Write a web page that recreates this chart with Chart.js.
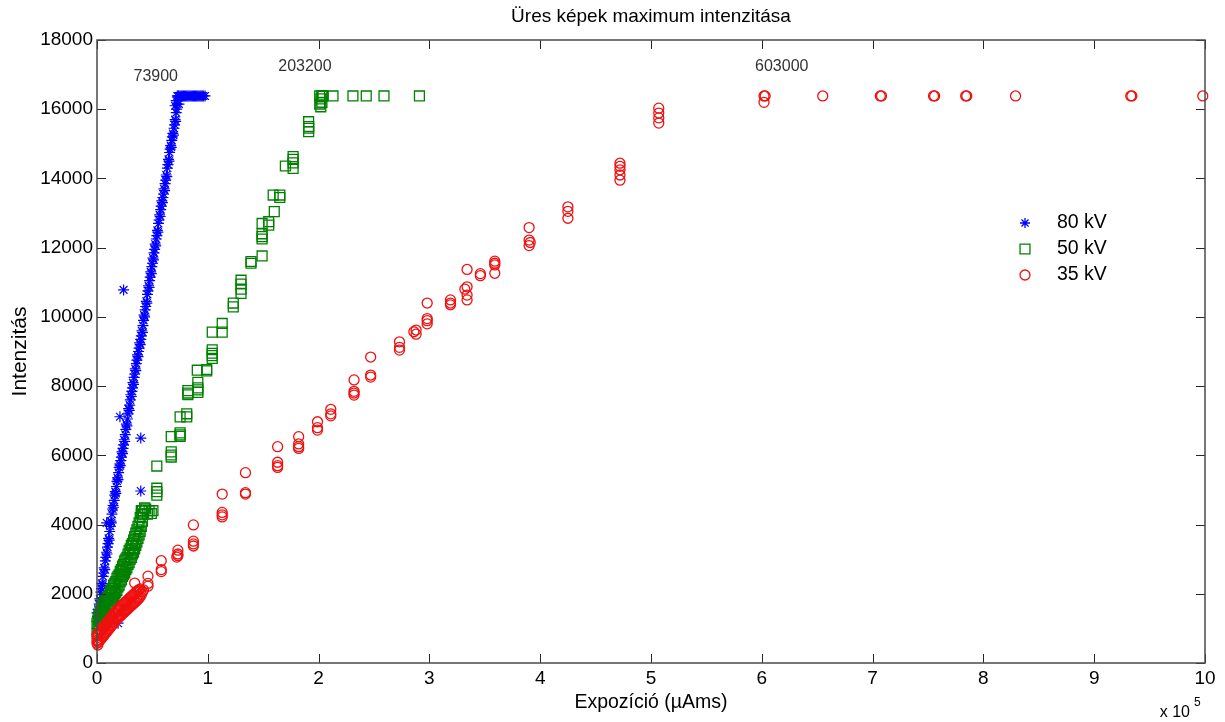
<!DOCTYPE html>
<html><head><meta charset="utf-8">
<script src="https://cdn.jsdelivr.net/npm/chart.js@4.4.1/dist/chart.umd.min.js"></script>
<style>html,body{margin:0;padding:0;background:#fff;}canvas{display:block;}</style>
</head><body>
<canvas id="c" width="1225" height="722"></canvas>
<script>
const chartTitle = 'Üres képek maximum intenzitása';
const xTitle = 'Expozíció (µAms)';
const yTitle = 'Intenzitás';
const xTickValues = [0,100000,200000,300000,400000,500000,600000,700000,800000,900000,1000000];
const xTickLabels = ['0','1','2','3','4','5','6','7','8','9','10'];
const yTickValues = [0,2000,4000,6000,8000,10000,12000,14000,16000,18000];
const xExponent = '5';
const seriesNames = ['80 kV','50 kV','35 kV'];
const seriesColors = ['#0000ff','#008000','#f01010'];

const kv80 = [
[0,1200],[0,1450],[500,1350],[1000,1550],[1500,1500],[2000,1700],[2500,1850],[3000,1800],[3500,2050],[4000,2150],[4500,2300],[5000,2250],[5500,2500],[6000,2600],[6500,2750],[7000,2700],[7500,2950],[8000,3050],[8500,3200],[9000,3150],[9500,3350],[10000,3450],[10500,3600],[11000,3550],[11500,3800],[12000,3950],[12500,4100],[13000,4050],[13500,4300],[14000,4450],[14500,4550],[15000,4500],[15500,4700],[16000,4850],[16500,4950],[17000,4900],[17500,5100],[18000,5250],[18500,5350],[19000,5300],[19500,5500],[20000,5650],[20500,5750],[21000,5700],[21500,5850],[22000,5950],[22500,6100],[23000,6050],[23500,6200],[24000,6300],[24500,6450],[25000,6400],[25500,6600],[26000,6750],[26500,6900],[27000,6850],[27500,7050],[28000,7200],[28500,7350],[29000,7300],[29500,7450],[30000,7600],[30500,7750],[31000,7700],[31500,7850],[32000,7950],[32500,8100],[33000,8050],[33500,8250],[34000,8350],[34500,8500],[35000,8450],[35500,8650],[36000,8750],[36500,8900],[37000,8850],[37500,9000],[38000,9100],[38500,9250],[39000,9200],[39500,9350],[40000,9450],[40500,9600],[41000,9550],[41500,9750],[42000,9900],[42500,10050],[43000,10000],[43500,10200],[44000,10300],[44500,10450],[45000,10400],[45500,10650],[46000,10750],[46500,10900],[47000,10850],[47500,11050],[48000,11150],[48500,11300],[49000,11250],[49500,11450],[50000,11550],[50500,11700],[51000,11650],[51500,11850],[52000,11950],[52500,12100],[53000,12050],[53500,12250],[54000,12350],[54500,12500],[55000,12450],[55500,12700],[56000,12800],[56500,12950],[57000,12900],[57500,13100],[58000,13200],[58500,13350],[59000,13300],[59500,13450],[60000,13550],[60500,13700],[61000,13650],[61500,13850],[62000,13950],[62500,14100],[63000,14050],[63500,14300],[64000,14400],[64500,14550],[65000,14500],[65500,14750],[66000,14850],[66500,14950],[67000,14900],[67500,15100],[68000,15200],[68500,15300],[69000,15250],[69500,15450],[70000,15550],[70500,15700],[71000,15650],[71500,15900],[72000,16000],[72500,16150],[73000,16250],[73500,16383],[73900,16383],[70500,16100],[71500,16250],[74000,16150],[72500,16383],
[75000,16383],[76000,16383],[77000,16383],[78000,16383],[79000,16383],[80000,16383],[81000,16383],[82000,16383],[83000,16383],[84000,16383],[85000,16383],[86000,16383],[87000,16383],[88000,16383],[89000,16383],[90000,16383],[91000,16383],[92000,16383],[93000,16383],[94000,16383],[95000,16383],[96000,16383],[97500,16383],
[24000,10780],[20700,7115],[39500,6500],[39500,4970],[8700,4050],[19000,1150]
];

const kv50 = [
[0,850],[0,1150],[1000,1000],[1000,1300],[2000,1100],[2000,1400],[3000,1200],[3000,1500],[4000,1250],[4000,1550],[5000,1350],[5000,1650],[6000,1400],[6000,1700],[7000,1450],[7000,1750],[8000,1500],[8000,1800],[9000,1550],[9000,1850],[10000,1600],[10000,1900],[11000,1650],[11000,1950],[12000,1700],[12000,2050],[13000,1800],[13000,2100],[14000,1850],[14000,2150],[15000,1900],[15000,2250],[16000,2000],[16000,2300],[17000,2050],[17000,2350],[18000,2100],[18000,2450],[19000,2200],[19000,2500],[20000,2250],[20000,2550],[21000,2350],[21000,2650],[22000,2400],[22000,2700],[23000,2500],[23000,2800],[24000,2550],[24000,2850],[25000,2600],[25000,2950],[26000,2700],[26000,3000],[27000,2750],[27000,3050],[28000,2850],[28000,3150],[29000,2900],[29000,3250],[30000,3000],[30000,3300],[31000,3050],[31000,3400],[32000,3150],[32000,3450],[33000,3200],[33000,3550],[34000,3300],[34000,3650],[35000,3400],[35000,3750],[36000,3500],[36000,3850],[37000,3600],[37000,3950],[38000,3700],[38000,4050],[39000,3800],[39000,4200],[40000,3950],[40000,4300],[41000,4100],[41000,4400],[42000,4300],
[40000,4400],[43000,4480],[44000,4450],[45500,4300],[47000,4400],[49000,4320],[50500,4400],
[54000,5690],[54000,4950],[54000,5050],[54000,4850],
[67000,6540],[67000,6010],[67000,6100],[67000,5950],
[75000,6590],[75000,6650],[75000,6550],[75000,7110],[81000,7110],[81000,7200],
[82000,7870],[82000,7750],[82000,7800],
[91000,7890],[91000,8110],[91000,7950],[91000,7820],[90500,8460],[99000,8440],[99000,8480],
[104000,8950],[104000,8800],[104000,9050],[104000,8880],[104000,9560],[113000,9560],[113000,9810],
[123000,10290],[123000,10400],
[130000,11060],[130000,10680],[130000,10800],[130000,10950],
[139000,11550],[139000,11600],
[149000,11760],[149000,12320],[149000,12700],[149000,12400],[149000,12250],
[155000,12750],[155000,12650],[160000,13040],
[165000,13520],[159000,13520],[165000,13450],
[170000,14360],
[177000,14630],[177000,14450],[177000,14290],[177000,14550],
[191000,15640],[191000,15500],[191000,15350],[191000,15450],
[201000,16383],[202000,16300],[203000,16383],[203000,16200],[204000,16383],[202000,16070],[203200,16383],[201000,16150],
[213000,16383],[231000,16383],[243000,16383],[259000,16383],[291000,16383]
];

const kv35 = [
[0,810],[0,570],[700,520],[0,650],[1000,600],[1000,850],[2000,630],[2000,890],[3000,670],[3000,930],[4000,710],[4000,970],[5000,750],[5000,1010],[6000,790],[6000,1050],[7000,830],[7000,1090],[8000,870],[8000,1130],[9000,910],[9000,1170],[10000,950],[10000,1210],[11000,990],[11000,1250],[12000,1030],[12000,1290],[13000,1070],[13000,1330],[14000,1110],[14000,1370],[15000,1150],[15000,1410],[16000,1190],[16000,1450],[17000,1230],[17000,1490],[18000,1270],[18000,1530],[19000,1300],[19000,1560],[20000,1330],[20000,1590],[21000,1360],[21000,1620],[22000,1390],[22000,1650],[23000,1420],[23000,1680],[24000,1450],[24000,1710],[25000,1480],[25000,1740],[26000,1510],[26000,1770],[27000,1540],[27000,1800],[28000,1570],[28000,1830],[29000,1600],[29000,1860],[30000,1630],[30000,1890],[31000,1660],[31000,1920],[32000,1690],[32000,1950],[33000,1720],[33000,1980],[34000,1750],[34000,2010],[35000,1780],[35000,2040],[36000,1810],[36000,2070],[37000,1840],[37000,2100],[38000,1870],[38000,2120],[39000,1920],[39000,2140],[40000,1980],[41000,2050],[42000,2110],
[34000,2310],
[46000,2510],[46000,2220],[46000,2300],
[58000,2955],[58000,2640],[58000,2700],
[73000,3260],[72000,3060],[73000,3150],[73000,3100],
[87000,3990],[87000,3440],[87000,3520],[87000,3380],
[113000,4880],[113000,4280],[113000,4350],[113000,4220],
[134000,5500],[134000,4880],[134000,4920],
[163000,6250],[163000,5700],[163000,5800],[163000,5650],
[182000,6540],[182000,6250],[182000,6330],[182000,6200],
[199000,6970],[199000,6730],[199000,6800],
[211000,7330],[211000,7140],[211000,7200],
[232000,8180],[232000,7740],[232000,7850],[232000,7800],
[247000,8840],[247000,8260],[247000,8320],
[273000,9280],[273000,9040],[273000,9120],
[286000,9570],[288000,9500],[288000,9620],
[298000,9890],[298000,10400],[298000,9800],[298000,9950],
[319000,10400],[319000,10490],[319000,10350],
[334000,11370],[334000,10870],[334000,10630],[334000,10490],[332000,10800],
[346000,11190],[346000,11250],
[359000,11610],[359000,11260],[359000,11550],[359000,11500],
[390000,12580],[390000,12220],[390000,12060],[391000,12150],
[425000,13180],[425000,12850],[425000,13050],
[472000,14440],[472000,13950],[472000,14350],[472000,14250],[472000,14100],
[507000,16030],[507000,15890],[507000,15750],[507000,15600],
[602000,16383],[603000,16383],[602000,16200],
[655000,16383],[707000,16383],[708000,16383],[755000,16383],[756000,16383],[784000,16383],[785000,16383],[829000,16383],[933000,16383],[934000,16383],[998000,16383]
];

const annotationTexts = ['73900','203200','603000'];
const annotationX = [53000,187700,618000];
const annotationY = [16950,17220,17220];

const FONT = '"Liberation Sans", Arial, sans-serif';
const markerStyles = ['star','rect','circle'];
const markerRadii = [5.5, 7, 5];

function toPoints(arr){ return arr.map(p => ({x:p[0], y:p[1]})); }

const framePlugin = {
  id: 'matlabFrame',
  afterDraw(chart) {
    const ctx = chart.ctx, a = chart.chartArea, xs = chart.scales.x, ys = chart.scales.y;
    ctx.save();
    ctx.strokeStyle = '#262626';
    ctx.lineWidth = 1;
    ctx.beginPath();
    xs.ticks.forEach(t => {
      const px = Math.round(xs.getPixelForValue(t.value)) + 0.5;
      ctx.moveTo(px, a.bottom); ctx.lineTo(px, a.bottom - 9);
      ctx.moveTo(px, a.top); ctx.lineTo(px, a.top + 9);
    });
    ys.ticks.forEach(t => {
      const py = Math.round(ys.getPixelForValue(t.value)) + 0.5;
      ctx.moveTo(a.left, py); ctx.lineTo(a.left + 9, py);
      ctx.moveTo(a.right, py); ctx.lineTo(a.right - 9, py);
    });
    ctx.stroke();
    ctx.strokeStyle = '#4a4a4a';
    ctx.lineWidth = 1.5;
    ctx.strokeRect(a.left, a.top, a.right - a.left, a.bottom - a.top);
    ctx.fillStyle = '#000';
    ctx.font = '19px ' + FONT;
    ctx.textAlign = 'center';
    ctx.textBaseline = 'middle';
    ctx.fillText(chartTitle, (a.left + a.right) / 2, 17);
    ctx.textAlign = 'right';
    ctx.textBaseline = 'alphabetic';
    ctx.font = '16px ' + FONT;
    ctx.fillText('x 10', a.right - 15, 717);
    ctx.textAlign = 'left';
    ctx.font = '12px ' + FONT;
    ctx.fillText(xExponent, a.right - 11, 706);
    ctx.fillStyle = '#333';
    ctx.font = '16px ' + FONT;
    ctx.textAlign = 'center';
    ctx.textBaseline = 'middle';
    annotationTexts.forEach((s, i) => {
      ctx.fillText(s, xs.getPixelForValue(annotationX[i]), ys.getPixelForValue(annotationY[i]));
    });
    const lx = 1025, ly0 = 223, dy = 26;
    seriesNames.forEach((name, i) => {
      const yy = ly0 + i * dy;
      ctx.strokeStyle = seriesColors[i];
      ctx.fillStyle = 'rgba(0,0,0,0)';
      ctx.lineWidth = 1.3;
      Chart.helpers.drawPoint(ctx, {pointStyle: markerStyles[i], radius: [5, 7, 5][i], rotation: 0, borderWidth: 1.3}, lx, yy);
      ctx.fillStyle = '#000';
      ctx.font = '19.5px ' + FONT;
      ctx.textAlign = 'left';
      ctx.textBaseline = 'middle';
      ctx.fillText(name, 1057, yy);
    });
    ctx.restore();
  }
};

const allSeries = [kv80, kv50, kv35];
new Chart(document.getElementById('c'), {
  type: 'scatter',
  data: {
    datasets: allSeries.map((s, i) => ({
      label: seriesNames[i], data: toPoints(s), pointStyle: markerStyles[i], pointRadius: markerRadii[i],
      borderColor: seriesColors[i], backgroundColor: 'rgba(0,0,0,0)', pointBorderWidth: i === 0 ? 1.2 : 1.3,
      order: 2 - i, clip: false
    }))
  },
  options: {
    responsive: false,
    animation: false,
    layout: {padding: {top: 40, right: 20, bottom: 0, left: 0}},
    plugins: {legend: {display: false}, title: {display: false}, tooltip: {enabled: false}},
    scales: {
      x: {
        type: 'linear', min: 0, max: 1000000,
        afterBuildTicks: s => { s.ticks = xTickValues.map(v => ({value: v})); },
        afterFit: s => { s.height = 59; },
        grid: {display: false, drawTicks: false}, border: {display: false},
        ticks: {color: '#000', font: {family: FONT, size: 19}, padding: 4, maxRotation: 0, autoSkip: false,
          callback: (v, i) => xTickLabels[i]},
        title: {display: true, text: xTitle, color: '#000', font: {family: FONT, size: 19.5}, padding: {top: 0, bottom: 8}}
      },
      y: {
        type: 'linear', min: 0, max: 18000,
        afterBuildTicks: s => { s.ticks = yTickValues.map(v => ({value: v})); },
        afterFit: s => { s.width = 97; },
        grid: {display: false, drawTicks: false}, border: {display: false},
        ticks: {color: '#000', font: {family: FONT, size: 19}, padding: 4, autoSkip: false,
          callback: v => String(v)},
        title: {display: true, text: yTitle, color: '#000', font: {family: FONT, size: 21}, padding: {top: 8, bottom: 0}}
      }
    }
  },
  plugins: [framePlugin]
});
</script>
</body></html>
